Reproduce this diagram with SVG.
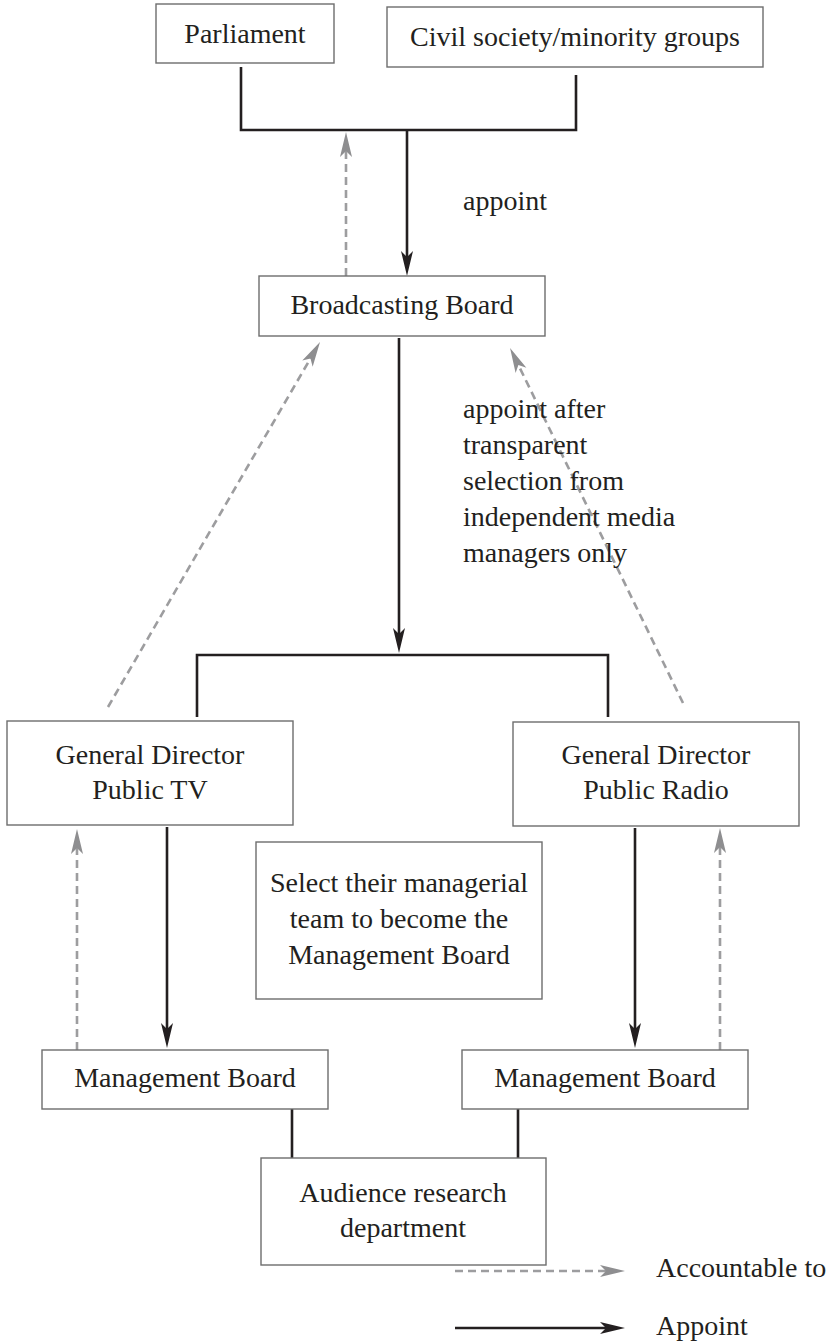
<svg xmlns="http://www.w3.org/2000/svg" width="834" height="1344" viewBox="0 0 834 1344">
<style>
.box{fill:#fff;stroke:#6d6d6d;stroke-width:1.4}
.t{font-family:"Liberation Serif","Times New Roman",serif;font-size:28px;fill:#231f20}
.c{text-anchor:middle}
.solid{fill:none;stroke:#231f20;stroke-width:2.6}
.dash{fill:none;stroke:#9d9d9f;stroke-width:2.6;stroke-dasharray:8 5}
</style>
<defs>
<marker id="ab" markerUnits="userSpaceOnUse" viewBox="-17 -7 27 14" refX="0" refY="0" markerWidth="27" markerHeight="14" orient="auto">
<path d="M9,0 L-16,-6 L-10,0 L-16,6 Z" fill="#231f20"/>
</marker>
<marker id="ag" markerUnits="userSpaceOnUse" viewBox="-17 -7 27 14" refX="0" refY="0" markerWidth="27" markerHeight="14" orient="auto">
<path d="M9,0 L-16,-6 L-10,0 L-16,6 Z" fill="#8e8e90"/>
</marker>
</defs>
<rect width="834" height="1344" fill="#fff"/>
<g id="connectors">
<polyline class="solid" points="241,67 241,130 576,130 576,75"/>
<line class="solid" x1="407" y1="130" x2="407" y2="267" marker-end="url(#ab)"/>
<line class="dash" x1="346" y1="276" x2="346" y2="141" marker-end="url(#ag)"/>
<line class="solid" x1="399" y1="338" x2="399" y2="644" marker-end="url(#ab)"/>
<polyline class="solid" points="197,717 197,655 608,655 608,717"/>
<line class="dash" x1="108" y1="707" x2="315.5" y2="349.8" marker-end="url(#ag)"/>
<line class="dash" x1="683" y1="703" x2="514" y2="356" marker-end="url(#ag)"/>
<line class="solid" x1="167" y1="827" x2="167" y2="1039" marker-end="url(#ab)"/>
<line class="dash" x1="77" y1="1050" x2="77" y2="838" marker-end="url(#ag)"/>
<line class="solid" x1="635" y1="828" x2="635" y2="1039" marker-end="url(#ab)"/>
<line class="dash" x1="720" y1="1050" x2="720" y2="837" marker-end="url(#ag)"/>
<line class="solid" x1="292" y1="1109" x2="292" y2="1158"/>
<line class="solid" x1="518" y1="1109" x2="518" y2="1158"/>
</g>
<g id="parliament">
<rect class="box" x="156" y="4" width="178" height="59"/>
<text class="t c" x="245" y="43">Parliament</text>
</g>
<g id="civil-society">
<rect class="box" x="387" y="7" width="376" height="60"/>
<text class="t c" x="575" y="46">Civil society/minority groups</text>
</g>
<g id="label-appoint">
<text class="t" x="463" y="210">appoint</text>
</g>
<g id="broadcasting-board">
<rect class="box" x="259" y="276" width="286" height="60"/>
<text class="t c" x="402" y="314">Broadcasting Board</text>
</g>
<g id="label-appoint-after">
<text class="t" x="463" y="418">appoint after</text>
<text class="t" x="463" y="454">transparent</text>
<text class="t" x="463" y="490">selection from</text>
<text class="t" x="463" y="526">independent media</text>
<text class="t" x="463" y="562">managers only</text>
</g>
<g id="gd-tv">
<rect class="box" x="7" y="721" width="286" height="104"/>
<text class="t c" x="150" y="764">General Director</text>
<text class="t c" x="150" y="799">Public TV</text>
</g>
<g id="gd-radio">
<rect class="box" x="513" y="722" width="286" height="104"/>
<text class="t c" x="656" y="764">General Director</text>
<text class="t c" x="656" y="799">Public Radio</text>
</g>
<g id="select-team">
<rect class="box" x="256" y="842" width="286" height="157"/>
<text class="t c" x="399" y="892">Select their managerial</text>
<text class="t c" x="399" y="928">team to become the</text>
<text class="t c" x="399" y="964">Management Board</text>
</g>
<g id="mb-tv">
<rect class="box" x="42" y="1050" width="286" height="59"/>
<text class="t c" x="185" y="1087">Management Board</text>
</g>
<g id="mb-radio">
<rect class="box" x="462" y="1050" width="286" height="59"/>
<text class="t c" x="605" y="1087">Management Board</text>
</g>
<g id="audience-research">
<rect class="box" x="261" y="1158" width="285" height="107"/>
<text class="t c" x="403" y="1202">Audience research</text>
<text class="t c" x="403" y="1237">department</text>
</g>
<g id="legend">
<line class="dash" x1="455" y1="1271" x2="616" y2="1271" marker-end="url(#ag)"/>
<text class="t" x="656" y="1277">Accountable to</text>
<line class="solid" x1="455" y1="1328" x2="616" y2="1328" marker-end="url(#ab)"/>
<text class="t" x="656" y="1335">Appoint</text>
</g>
</svg>
